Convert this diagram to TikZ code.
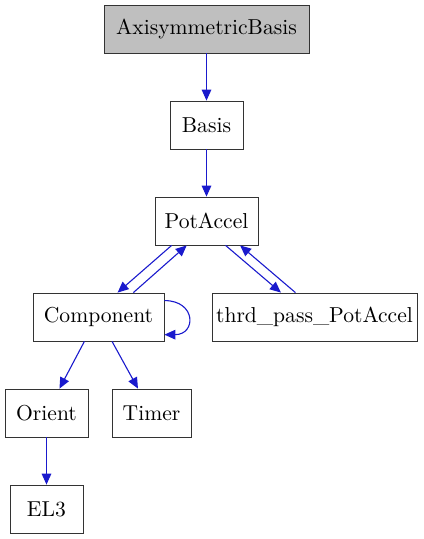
\documentclass[tikz,border=0pt]{standalone}
\usepackage{tikz}
\usetikzlibrary{arrows.meta}

\definecolor{edgeblue}{RGB}{26,26,205}
\definecolor{rootgray}{RGB}{191,191,191}

\tikzset{
	classbox/.style={draw=black!80, fill=white, rectangle, inner sep=0pt,
		minimum height=24pt, font=\fontsize{10.8}{12}\selectfont},
	rootbox/.style={classbox, fill=rootgray},
	dep/.style={draw=edgeblue, line width=0.55pt,
		-{Triangle[length=5.5pt, width=4.8pt]}},
}

\begin{document}
\begin{tikzpicture}[x=0.5pt, y=-0.5pt]

	% ------------------------------------------------
	% Ensure the dimensions of graphic are appropriate
	\useasboundingbox (0,0) rectangle (423,539);

	% ------------------------------------------------
	% Class boxes
	\node[rootbox, minimum width=102.5pt] (AxisymmetricBasis) at (206.5, 29) {AxisymmetricBasis};
	\node[classbox, minimum width=36.5pt]  (Basis)     at (206.5,125) {Basis};
	\node[classbox, minimum width=51.5pt]  (PotAccel)  at (206.5,221) {PotAccel};
	\node[classbox, minimum width=65.5pt]  (Component) at ( 98.5,317) {Component};
	\node[classbox, minimum width=102.5pt] (ThrdPass)  at (314.5,317) {thrd\_pass\_PotAccel};
	\node[classbox, minimum width=41.5pt]  (Orient)    at ( 46.5,413) {Orient};
	\node[classbox, minimum width=39.5pt]  (Timer)     at (151.5,413) {Timer};
	\node[classbox, minimum width=36.5pt]  (EL3)       at ( 46.5,509) {EL3};

	% ----------------
	% Dependencies
	\draw[dep] (AxisymmetricBasis) -- (Basis);
	\draw[dep] (Basis) -- (PotAccel);

	\draw[dep] (PotAccel.215) -- (Component.52);
	\draw[dep] (Component.35) -- (PotAccel.231);

	\draw[dep] (PotAccel.308) -- (ThrdPass.144);
	\draw[dep] (ThrdPass.128) -- (PotAccel.324);

	\draw[dep] (Component.14.5) .. controls +(32,0) and +(32,0) .. (Component.345.5);

	\draw[dep] (Component.240.6) -- (Orient.62.5);
	\draw[dep] (Component.299.4) -- (Timer.119.4);
	\draw[dep] (Orient) -- (EL3);

\end{tikzpicture}
\end{document}
